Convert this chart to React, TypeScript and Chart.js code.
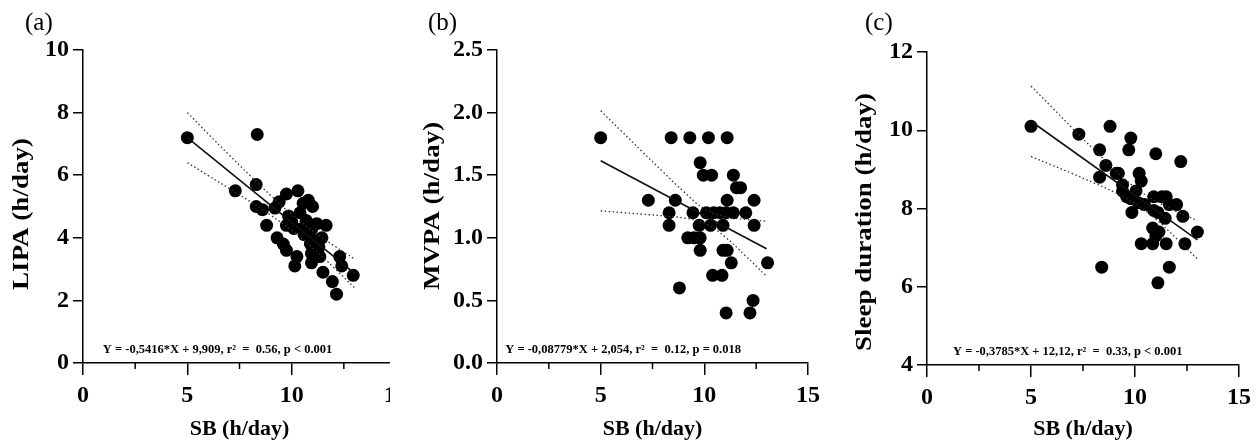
import React, { useEffect, useRef } from "react";
import { Chart, registerables } from "chart.js";

Chart.register(...registerables);

const FONT = "'Liberation Serif', 'Times New Roman', Times, serif";

// ---------- shared axis data ----------
const X_TICKS = [0, 5, 10, 15];
const X_MINOR = [2.5, 7.5, 12.5];
const X_TITLE = "SB (h/day)";
const CI_X = [5, 6, 7, 8, 9, 10, 11, 12, 13];
const FIT_X = [5, 13];

// ---------- panel (a): LIPA ----------
const sbA = [5.0, 8.35, 7.3, 8.3, 8.3, 8.6, 8.8, 9.2, 9.4, 9.75, 10.3, 9.85, 9.75, 10.1, 9.3, 9.6, 9.75, 10.25, 10.15, 10.55, 10.8, 11.0, 10.4, 10.7, 11.2, 11.65, 10.95, 11.45, 10.9, 10.95, 11.35, 10.95, 11.5, 12.3, 12.4, 12.95, 11.95, 12.15, 10.0, 10.5, 11.1, 11.3, 9.9, 10.6];
const lipaA = [7.2, 7.3, 5.5, 5.7, 5.0, 4.9, 4.4, 4.95, 5.15, 5.4, 5.5, 4.7, 4.4, 4.3, 4.0, 3.8, 3.6, 3.4, 3.1, 5.1, 5.2, 5.0, 4.8, 4.55, 4.45, 4.4, 4.25, 4.0, 3.8, 3.5, 3.4, 3.2, 2.9, 3.4, 3.1, 2.8, 2.6, 2.2, 4.5, 4.3, 3.9, 3.7, 4.6, 4.1];
const fitAY = [7.2, 2.87];
const ciAUp = [8.0, 7.32, 6.65, 5.99, 5.35, 4.75, 4.22, 3.76, 3.33];
const ciALo = [6.4, 5.99, 5.58, 5.16, 4.72, 4.24, 3.68, 3.06, 2.41];
const yTicksA = [0, 2, 4, 6, 8, 10];

// ---------- panel (b): MVPA ----------
const sbB = [5.0, 8.4, 9.3, 10.2, 11.1, 9.8, 9.95, 10.35, 11.4, 11.55, 11.75, 7.3, 8.6, 11.1, 12.4, 8.3, 9.45, 10.1, 10.45, 10.75, 11.05, 11.4, 12.0, 8.3, 9.75, 10.3, 10.9, 12.4, 9.2, 9.5, 9.8, 9.8, 10.9, 11.1, 11.3, 13.05, 10.4, 10.85, 8.8, 12.35, 11.05, 12.2];
const mvpaB = [1.8, 1.8, 1.8, 1.8, 1.8, 1.6, 1.5, 1.5, 1.5, 1.4, 1.4, 1.3, 1.3, 1.3, 1.3, 1.2, 1.2, 1.2, 1.2, 1.2, 1.2, 1.2, 1.2, 1.1, 1.1, 1.1, 1.1, 1.1, 1.0, 1.0, 1.0, 0.9, 0.9, 0.9, 0.8, 0.8, 0.7, 0.7, 0.6, 0.5, 0.4, 0.4];
const fitBY = [1.615, 0.913];
const ciBUp = [2.015, 1.852, 1.689, 1.528, 1.37, 1.232, 1.169, 1.147, 1.133];
const ciBLo = [1.215, 1.202, 1.189, 1.176, 1.158, 1.12, 1.007, 0.853, 0.693];
const yTicksB = [0, 0.5, 1.0, 1.5, 2.0, 2.5];

// ---------- panel (c): Sleep duration ----------
const sbC = [5.0, 7.3, 8.8, 9.8, 9.7, 8.3, 11.0, 12.2, 8.6, 8.3, 9.2, 10.2, 10.3, 9.4, 9.4, 10.05, 9.8, 10.15, 10.45, 10.9, 11.3, 11.65, 12.0, 10.9, 9.85, 12.3, 11.45, 13.0, 10.85, 11.15, 11.0, 10.3, 10.85, 11.5, 12.4, 8.4, 11.65, 11.1, 9.1, 9.6, 11.1, 11.5];
const sleepC = [10.1, 9.9, 10.1, 9.8, 9.5, 9.5, 9.4, 9.2, 9.1, 8.8, 8.9, 8.9, 8.7, 8.6, 8.45, 8.45, 8.25, 8.15, 8.1, 8.3, 8.3, 8.1, 8.1, 7.95, 7.9, 7.8, 7.75, 7.4, 7.5, 7.4, 7.3, 7.1, 7.1, 7.1, 7.1, 6.5, 6.5, 6.1, 8.9, 8.3, 7.9, 8.3];
const fitCY = [10.23, 7.2];
const ciCUp = [11.13, 10.59, 10.05, 9.52, 9.01, 8.54, 8.19, 7.92, 7.69];
const ciCLo = [9.33, 9.11, 8.89, 8.66, 8.42, 8.13, 7.73, 7.23, 6.71];
const yTicksC = [4, 6, 8, 10, 12];

type PanelCfg = {
  label: string;
  labelLeft: number;
  left: number;
  clipWidth: number;
  canvasWidth: number;
  yWidth: number;
  xHeight: number;
  padTop: number;
  padRight: number;
  yTitleX: number;
  yTitleY: number;
  yTicks: number[];
  yDec: number;
  yTitle: string;
  xs: number[];
  ys: number[];
  fitY: number[];
  ciUp: number[];
  ciLo: number[];
  eq: string;
  eqX: number;
  eqY: number;
};

const PANELS: PanelCfg[] = [
  {
    label: "(a)", labelLeft: 25, left: 0, clipWidth: 390, canvasWidth: 420,
    yWidth: 83, xHeight: 80, padTop: 50, padRight: 24, yTitleX: 22, yTitleY: 214,
    yTicks: yTicksA, yDec: 0, yTitle: "LIPA (h/day)",
    xs: sbA, ys: lipaA, fitY: fitAY, ciUp: ciAUp, ciLo: ciALo,
    eq: "Y = -0,5416*X + 9,909, r\u00B2  =  0.56, p < 0.001", eqX: 0.95, eqY: 0.42,
  },
  {
    label: "(b)", labelLeft: 428, left: 418, clipWidth: 422, canvasWidth: 422,
    yWidth: 79, xHeight: 80, padTop: 50, padRight: 32, yTitleX: 15, yTitleY: 206,
    yTicks: yTicksB, yDec: 1, yTitle: "MVPA (h/day)",
    xs: sbB, ys: mvpaB, fitY: fitBY, ciUp: ciBUp, ciLo: ciBLo,
    eq: "Y = -0,08779*X + 2,054, r\u00B2  =  0.12, p = 0.018", eqX: 0.4, eqY: 0.105,
  },
  {
    label: "(c)", labelLeft: 865, left: 840, clipWidth: 417, canvasWidth: 417,
    yWidth: 87, xHeight: 78, padTop: 52, padRight: 17, yTitleX: 25, yTitleY: 222,
    yTicks: yTicksC, yDec: 0, yTitle: "Sleep duration (h/day)",
    xs: sbC, ys: sleepC, fitY: fitCY, ciUp: ciCUp, ciLo: ciCLo,
    eq: "Y = -0,3785*X + 12,12, r\u00B2  =  0.33, p < 0.001", eqX: 1.25, eqY: 4.34,
  },
];

const toPts = (xs: number[], ys: number[]) => xs.map((x, i) => ({ x, y: ys[i] }));

function Panel({ cfg }: { cfg: PanelCfg }) {
  const ref = useRef<HTMLCanvasElement>(null);

  useEffect(() => {
    if (!ref.current) return;
    const extras = {
      id: "extras",
      afterDraw(chart: any) {
        const ctx = chart.ctx;
        const sx = chart.scales.x;
        const sy = chart.scales.y;
        const b = chart.chartArea.bottom;
        ctx.save();
        // minor ticks on x axis
        ctx.strokeStyle = "#000";
        ctx.lineWidth = 1.5;
        for (const v of X_MINOR) {
          const px = sx.getPixelForValue(v);
          ctx.beginPath();
          ctx.moveTo(px, b);
          ctx.lineTo(px, b + 6);
          ctx.stroke();
        }
        // regression equation
        ctx.font = `bold 12.5px ${FONT}`;
        ctx.fillStyle = "#000";
        ctx.textAlign = "left";
        ctx.textBaseline = "middle";
        ctx.fillText(cfg.eq, sx.getPixelForValue(cfg.eqX), sy.getPixelForValue(cfg.eqY));
        // y axis title
        ctx.translate(cfg.yTitleX, cfg.yTitleY);
        ctx.rotate(-Math.PI / 2);
        ctx.scale(1, 0.85);
        ctx.font = `bold 27px ${FONT}`;
        ctx.textAlign = "center";
        ctx.textBaseline = "middle";
        ctx.fillText(cfg.yTitle, 0, 0);
        ctx.restore();
      },
    };
    const chart = new Chart(ref.current, {
      type: "scatter",
      data: {
        datasets: [
          {
            data: toPts(CI_X, cfg.ciUp), showLine: true, borderColor: "#333", borderWidth: 1.3,
            borderDash: [1.5, 2.5], pointRadius: 0, tension: 0.4, fill: false,
          },
          {
            data: toPts(CI_X, cfg.ciLo), showLine: true, borderColor: "#333", borderWidth: 1.3,
            borderDash: [1.5, 2.5], pointRadius: 0, tension: 0.4, fill: false,
          },
          {
            data: toPts(FIT_X, cfg.fitY), showLine: true, borderColor: "#111", borderWidth: 1.6,
            pointRadius: 0, fill: false,
          },
          {
            data: toPts(cfg.xs, cfg.ys), showLine: false, pointRadius: 6.5, pointHoverRadius: 6.5,
            backgroundColor: "#000", borderColor: "#000", borderWidth: 0,
          },
        ] as any,
      },
      options: {
        responsive: false,
        animation: false,
        devicePixelRatio: 1,
        events: [],
        layout: { padding: { top: cfg.padTop, right: cfg.padRight, left: 0, bottom: 0 } },
        plugins: { legend: { display: false }, tooltip: { enabled: false } },
        scales: {
          x: {
            type: "linear",
            min: 0,
            max: 15,
            afterFit: (s: any) => { s.height = cfg.xHeight; },
            afterBuildTicks: (s: any) => { s.ticks = X_TICKS.map((v) => ({ value: v })); },
            ticks: {
              font: { family: FONT, size: 24, weight: "bold" },
              color: "#000",
              padding: 6,
              maxRotation: 0,
              autoSkip: false,
            },
            grid: { drawOnChartArea: false, color: "#000", lineWidth: 1.5, tickLength: 12 },
            border: { color: "#000", width: 1.5 },
            title: {
              display: true,
              text: X_TITLE,
              font: { family: FONT, size: 22, weight: "bold" },
              color: "#000",
              padding: { top: 0, bottom: 0 },
            },
          },
          y: {
            type: "linear",
            min: cfg.yTicks[0],
            max: cfg.yTicks[cfg.yTicks.length - 1],
            afterFit: (s: any) => { s.width = cfg.yWidth; },
            afterBuildTicks: (s: any) => { s.ticks = cfg.yTicks.map((v) => ({ value: v })); },
            ticks: {
              font: { family: FONT, size: 24, weight: "bold" },
              color: "#000",
              padding: 4,
              autoSkip: false,
              callback: (v: any) => Number(v).toFixed(cfg.yDec),
            },
            grid: { drawOnChartArea: false, color: "#000", lineWidth: 1.5, tickLength: 10 },
            border: { color: "#000", width: 1.5 },
            title: { display: false },
          },
        },
      } as any,
      plugins: [extras],
    });
    return () => chart.destroy();
  }, [cfg]);

  return (
    <>
      <div
        style={{
          position: "absolute",
          left: cfg.left,
          top: 0,
          width: cfg.clipWidth,
          height: 443,
          overflow: "hidden",
        }}
      >
        <canvas ref={ref} width={cfg.canvasWidth} height={443} style={{ display: "block" }} />
      </div>
      <div
        style={{
          position: "absolute",
          left: cfg.labelLeft,
          top: 9,
          fontFamily: FONT,
          fontSize: 25,
          lineHeight: "25px",
          color: "#000",
        }}
      >
        {cfg.label}
      </div>
    </>
  );
}

export default function App() {
  return (
    <div
      style={{
        position: "absolute",
        left: 0,
        top: 0,
        width: 1257,
        height: 443,
        background: "#fff",
        overflow: "hidden",
      }}
    >
      {PANELS.map((p) => (
        <Panel key={p.label} cfg={p} />
      ))}
    </div>
  );
}
